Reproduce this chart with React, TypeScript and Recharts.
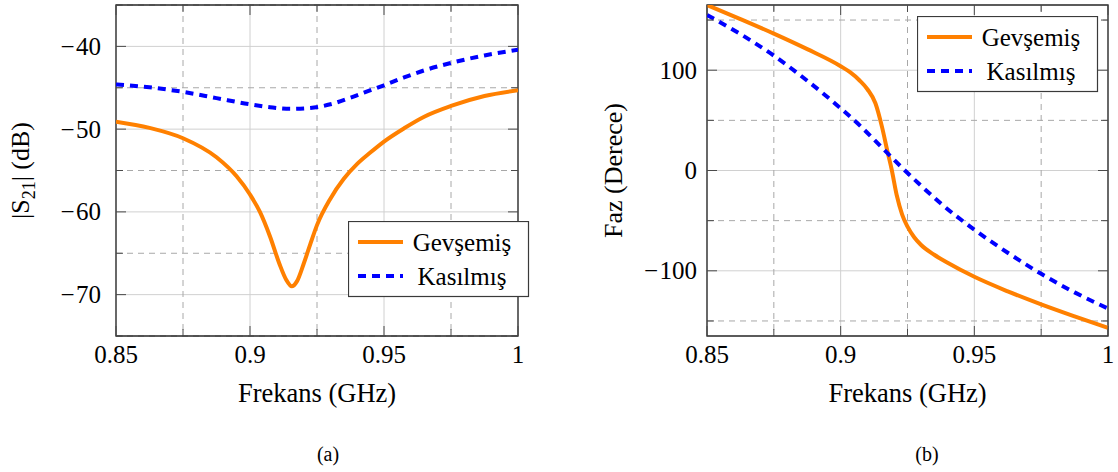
import { LineChart, Line, XAxis, YAxis, CartesianGrid, ReferenceArea, Legend } from 'recharts';

const FONT = '"Liberation Serif", "DejaVu Serif", serif';

// (a) |S21| against frequency
const magFreqRelaxed = [0.85, 0.8625, 0.875, 0.8875, 0.895, 0.9, 0.9037, 0.9075, 0.911, 0.9135, 0.9156, 0.9175, 0.92, 0.9225, 0.925, 0.93, 0.935, 0.94, 0.945, 0.95, 0.9575, 0.965, 0.975, 0.9875, 1.0];
const magRelaxed = [-49.1, -49.85, -51.1, -53.4, -55.7, -57.9, -60.0, -63.0, -66.3, -68.2, -69.0, -68.4, -66.3, -63.9, -61.6, -58.4, -56.0, -54.2, -52.8, -51.5, -49.9, -48.5, -47.2, -46.0, -45.3];
const magFreqContracted = [0.85, 0.8625, 0.875, 0.8875, 0.9, 0.9075, 0.915, 0.9225, 0.93, 0.9375, 0.945, 0.95, 0.9575, 0.965, 0.975, 0.9875, 1.0];
const magContracted = [-44.6, -44.95, -45.5, -46.25, -47.0, -47.35, -47.55, -47.45, -47.0, -46.2, -45.3, -44.7, -43.75, -42.9, -42.0, -41.1, -40.4];

// (b) phase against frequency
const phaseFreqRelaxed = [0.85, 0.8625, 0.875, 0.8875, 0.9, 0.9035, 0.907, 0.91, 0.913, 0.9155, 0.9175, 0.919, 0.921, 0.923, 0.925, 0.9275, 0.93, 0.935, 0.94, 0.95, 0.9625, 0.975, 0.9875, 1.0];
const phaseRelaxed = [165, 151, 136.5, 121, 104, 98, 90, 81, 67, 43, 19, 2, -25, -44, -56, -66.5, -74, -84, -92, -106, -120.5, -133.5, -145.5, -157];
const phaseFreqContracted = [0.85, 0.8625, 0.875, 0.8875, 0.9, 0.9075, 0.915, 0.9225, 0.93, 0.9375, 0.95, 0.9625, 0.975, 0.9875, 1.0];
const phaseContracted = [155, 136, 114.5, 89.5, 62, 44, 24, 4, -15, -33, -59, -82, -103, -121.5, -137.6];

const seriesNames = ['Gevşemiş', 'Kasılmış'];

const xMajor = [0.85, 0.9, 0.95, 1];
const xMinor = [0.875, 0.925, 0.975];
const magMajor = [-70, -60, -50, -40];
const magMinor = [-75, -65, -55, -45, -35];
const phaseMajor = [-100, 0, 100];
const phaseMinor = [-150, -50, 50, 150];

const TICK = '#4a4a4a';
const MAJOR_GRID = '#d0d0d0';
const MINOR_GRID = '#a8a8a8';

const fmtX = (v: number) => `${v}`;

type Box = { l: number; r: number; t: number; b: number };
type Pt = { f: number; v: number };

function pts(freq: number[], vals: number[]): Pt[] {
  return freq.map((f, i) => ({ f, v: vals[i] }));
}

function LegendBox({ payload }: any) {
  const items = payload || [];
  return (
    <svg width={182} height={77} style={{ display: 'block' }}>
      <rect x={0.5} y={0.5} width={180} height={75} fill="#fff" stroke="#3a3a3a" strokeWidth={1.2} />
      {items.map((e: any, i: number) => {
        const y = 21 + i * 34;
        return (
          <g key={e.value}>
            <line x1={10} x2={55} y1={y} y2={y} stroke={e.color} strokeWidth={4}
              strokeDasharray={e.payload?.strokeDasharray} />
            <text x={114} y={y} dy="0.34em" textAnchor="middle" fontFamily={FONT} fontSize={25} fill="#000">
              {e.value}
            </text>
          </g>
        );
      })}
    </svg>
  );
}

interface PanelProps {
  left: number;
  width: number;
  box: Box;
  relaxed: Pt[];
  contracted: Pt[];
  yDomain: [number, number];
  yMajor: number[];
  yMinor: number[];
  yGap: number;
  yTitle: React.ReactNode;
  yTitleX: number;
  caption: string;
  captionX: number;
  legendPos: { x: number; y: number };
}

function Panel(p: PanelProps) {
  const { box } = p;
  const height = 472;
  const yAxisW = 80;
  const xAxisH = 60;
  const yTicks = [...p.yMajor, ...p.yMinor].sort((a, b) => a - b);
  const xTicks = [...xMajor, ...xMinor].sort((a, b) => a - b);
  const midX = (box.l + box.r) / 2;
  const midY = (box.t + box.b) / 2;

  const xTick = ({ x, payload }: any) => {
    const major = xMajor.includes(payload.value);
    const len = major ? 10 : 7;
    return (
      <g>
        <line x1={x} x2={x} y1={box.b} y2={box.b - len} stroke={TICK} />
        <line x1={x} x2={x} y1={box.t} y2={box.t + len} stroke={TICK} />
        {major && (
          <text x={x} y={box.b + 27} textAnchor="middle" fontFamily={FONT} fontSize={25} fill="#000">
            {fmtX(payload.value)}
          </text>
        )}
      </g>
    );
  };

  const yTick = ({ y, payload }: any) => {
    const v = payload.value;
    const major = p.yMajor.includes(v);
    const len = major ? 10 : 7;
    return (
      <g>
        <line x1={box.l} x2={box.l + len} y1={y} y2={y} stroke={TICK} />
        <line x1={box.r - len} x2={box.r} y1={y} y2={y} stroke={TICK} />
        {major && (
          <text x={box.l - p.yGap} y={y} dy="0.34em" textAnchor="end" fontFamily={FONT} fontSize={25} fill="#000">
            {v < 0 ? (
              <>
                {'\u2212'}
                <tspan dx={1.5}>{-v}</tspan>
              </>
            ) : (
              `${v}`
            )}
          </text>
        )}
      </g>
    );
  };

  const scaleY = (v: number, props: any) => {
    const s = props?.yAxis?.scale;
    if (typeof s === 'function') return s(v);
    const [lo, hi] = p.yDomain;
    return box.t + ((hi - v) / (hi - lo)) * (box.b - box.t);
  };
  const scaleX = (v: number, props: any) => {
    const s = props?.xAxis?.scale;
    if (typeof s === 'function') return s(v);
    return box.l + ((v - 0.85) / 0.15) * (box.r - box.l);
  };

  return (
    <div style={{ position: 'absolute', left: p.left, top: 0 }}>
      <LineChart
        width={p.width}
        height={height}
        margin={{ top: box.t, left: box.l - yAxisW, right: p.width - box.r, bottom: height - box.b - xAxisH }}
      >
        <CartesianGrid
          stroke={MAJOR_GRID}
          strokeWidth={1}
          horizontalCoordinatesGenerator={(props: any) => p.yMajor.map((v) => scaleY(v, props))}
          verticalCoordinatesGenerator={(props: any) => xMajor.map((v) => scaleX(v, props))}
        />
        <CartesianGrid
          stroke={MINOR_GRID}
          strokeWidth={1}
          strokeDasharray="6 5"
          horizontalCoordinatesGenerator={(props: any) => p.yMinor.map((v) => scaleY(v, props))}
          verticalCoordinatesGenerator={(props: any) => xMinor.map((v) => scaleX(v, props))}
        />
        <XAxis
          dataKey="f"
          type="number"
          domain={[0.85, 1]}
          ticks={xTicks}
          allowDataOverflow
          axisLine={false}
          tickLine={false}
          height={xAxisH}
          tick={xTick}
          interval={0}
          label={() => (
            <g>
              <text x={midX} y={box.b + 66} textAnchor="middle" fontFamily={FONT} fontSize={26.5} fill="#000">
                Frekans (GHz)
              </text>
              <text x={p.captionX} y={box.b + 125} textAnchor="middle" fontFamily={FONT} fontSize={20} fill="#000">
                {p.caption}
              </text>
            </g>
          )}
        />
        <YAxis
          type="number"
          domain={p.yDomain}
          ticks={yTicks}
          allowDataOverflow
          axisLine={false}
          tickLine={false}
          width={yAxisW}
          tick={yTick}
          interval={0}
          label={() => (
            <text
              x={p.yTitleX}
              y={midY}
              transform={`rotate(-90 ${p.yTitleX} ${midY})`}
              textAnchor="middle"
              fontFamily={FONT}
              fontSize={26}
              fill="#000"
            >
              {p.yTitle}
            </text>
          )}
        />
        <Line
          data={p.relaxed}
          type="monotone"
          dataKey="v"
          name={seriesNames[0]}
          stroke="#ff8000"
          strokeWidth={4}
          dot={false}
          isAnimationActive={false}
        />
        <Line
          data={p.contracted}
          type="monotone"
          dataKey="v"
          name={seriesNames[1]}
          stroke="#0000ff"
          strokeWidth={4}
          strokeDasharray="8 6"
          dot={false}
          isAnimationActive={false}
        />
        <ReferenceArea
          x1={0.85}
          x2={1}
          y1={p.yDomain[0]}
          y2={p.yDomain[1]}
          fill="none"
          fillOpacity={0}
          stroke="#262626"
          strokeWidth={1.3}
        />
        <Legend
          layout="vertical"
          align="center"
          verticalAlign="middle"
          content={<LegendBox />}
          wrapperStyle={{ left: p.legendPos.x, top: p.legendPos.y, width: 182, height: 77 }}
        />
      </LineChart>
    </div>
  );
}

export default function App() {
  const box = { t: 5, b: 336 };
  return (
    <div style={{ position: 'absolute', left: 0, top: 0, width: 1118, height: 472, background: '#fff', fontFamily: FONT }}>
      <Panel
        left={0}
        width={560}
        box={{ l: 116, r: 518, ...box }}
        relaxed={pts(magFreqRelaxed, magRelaxed)}
        contracted={pts(magFreqContracted, magContracted)}
        yDomain={[-75, -35]}
        yMajor={magMajor}
        yMinor={magMinor}
        yGap={15}
        yTitle={
          <>
            |S<tspan fontSize={18} dy={6}>21</tspan>
            <tspan dy={-6}>| (dB)</tspan>
          </>
        }
        yTitleX={29}
        caption="(a)"
        captionX={328}
        legendPos={{ x: 348, y: 221 }}
      />
      <Panel
        left={560}
        width={558}
        box={{ l: 147, r: 548, ...box }}
        relaxed={pts(phaseFreqRelaxed, phaseRelaxed)}
        contracted={pts(phaseFreqContracted, phaseContracted)}
        yDomain={[-165, 165]}
        yMajor={phaseMajor}
        yMinor={phaseMinor}
        yGap={10}
        yTitle="Faz (Derece)"
        yTitleX={62}
        caption="(b)"
        captionX={367}
        legendPos={{ x: 357, y: 16 }}
      />
    </div>
  );
}
